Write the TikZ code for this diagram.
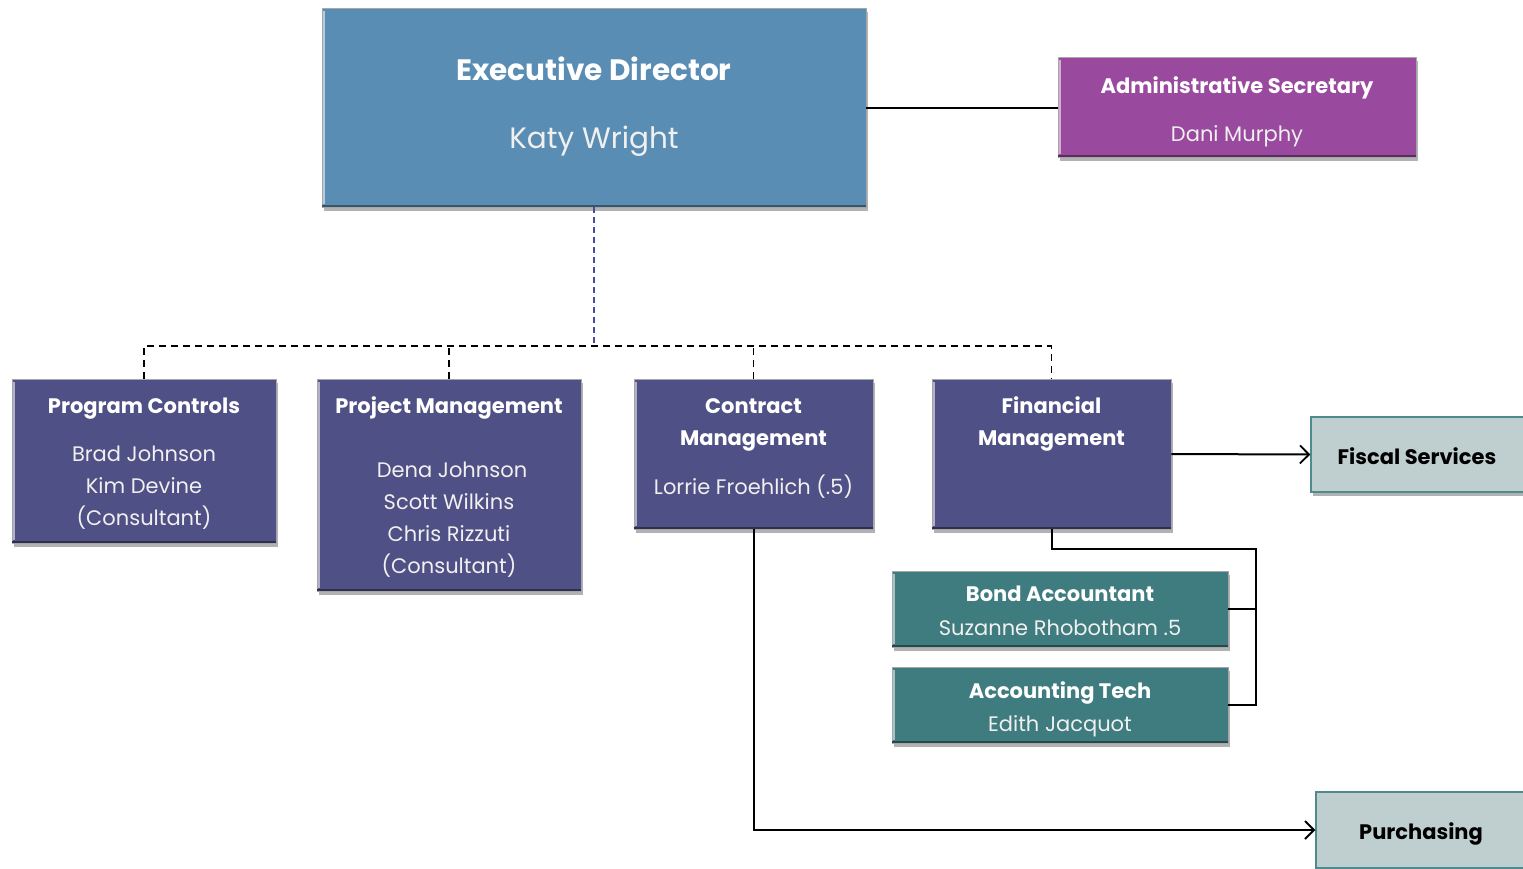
\documentclass[tikz,border=0pt]{standalone}
\usepackage{fontspec}
\setmainfont{Poppins}
\usetikzlibrary{shadows,arrows.meta}
\definecolor{execblue}{HTML}{5A8DB3}
\definecolor{adminpurple}{HTML}{9A4A9E}
\definecolor{deptblue}{HTML}{4F5086}
\definecolor{teal}{HTML}{3F7C7F}
\definecolor{lightbox}{HTML}{BFCFD0}
\definecolor{lightborder}{HTML}{4F8A8C}
\definecolor{busline}{HTML}{4A4A9A}
\tikzset{
  box/.style={draw=black!35, line width=0.8pt, inner sep=0pt,
    drop shadow={shadow xshift=2pt, shadow yshift=-4pt, opacity=0.3, fill=black}},
  lbox/.style={draw=lightborder, line width=1.5pt, fill=lightbox, inner sep=0pt,
    drop shadow={shadow xshift=2pt, shadow yshift=-4pt, opacity=0.3, fill=black}},
  ttl/.style={anchor=base, text=white, font=\bfseries\fontsize{#1}{#1}\selectfont, inner sep=0pt},
  nm/.style={anchor=base, text=white!94!black, font=\fontsize{#1}{#1}\selectfont, inner sep=0pt},
  conn/.style={line width=2pt, black},
  dsh/.style={line width=1.8pt, dash pattern=on 7pt off 5pt},
  arr/.style={conn, -{Straight Barb[length=9pt,width=18pt,line width=1.8pt]}},
}
\begin{document}
\begin{tikzpicture}[x=1pt,y=-1pt]
\clip (0,0) rectangle (1523,868);
\fill[white] (0,0) rectangle (1523,868);
% boxes
\node[box, fill=execblue, minimum width=544pt, minimum height=199pt] (ed) at (594,107.5) {};
\node[box, fill=adminpurple, minimum width=358pt, minimum height=100pt] (as) at (1237,107) {};
\node[box, fill=deptblue, minimum width=264pt, minimum height=164pt] (pc) at (144,461) {};
\node[box, fill=deptblue, minimum width=264pt, minimum height=212pt] (pm) at (449,485) {};
\node[box, fill=deptblue, minimum width=239pt, minimum height=150pt] (cm) at (753.5,454) {};
\node[box, fill=deptblue, minimum width=239pt, minimum height=150pt] (fm) at (1051.5,454) {};
\node[box, fill=teal, minimum width=336pt, minimum height=76pt] (ba) at (1060,609) {};
\node[box, fill=teal, minimum width=336pt, minimum height=76pt] (at) at (1060,705) {};
\node[lbox, minimum width=220pt, minimum height=75pt] (fs) at (1421,454.5) {};
\node[lbox, minimum width=220pt, minimum height=76pt] (pu) at (1426,830) {};
% bevel highlights
\foreach \b/\c in {ed/execblue,as/adminpurple,pc/deptblue,pm/deptblue,cm/deptblue,fm/deptblue,ba/teal,at/teal}{
  \draw[\c!45!white, line width=1.5pt] ([xshift=2.5pt,yshift=-3pt]\b.north west) -- ([xshift=2.5pt,yshift=3pt]\b.south west);
  \draw[\c!60!black, line width=1.5pt] ([yshift=1.5pt]\b.south west) -- ([yshift=1.5pt]\b.south east);
}
% texts
\node[ttl=29.5] (edt) at (594,80) {Executive Director};
\node[nm=29.5] (edn) at (594,148) {Katy Wright};
\node[ttl=21] (ast) at (1237,93) {Administrative Secretary};
\node[nm=21] (asn) at (1237,141) {Dani Murphy};
\node[ttl=21] (pct) at (144,413) {Program Controls};
\node[nm=21] (pcn) at (144,461) {Brad Johnson};
\node[nm=21] (pcn2) at (144,493) {Kim Devine};
\node[nm=21] (pcn3) at (144,525) {(Consultant)};
\node[ttl=21] (pmt) at (449,413) {Project Management};
\node[nm=21] (pmn1) at (452,477) {Dena Johnson};
\node[nm=21] (pmn2) at (449,509) {Scott Wilkins};
\node[nm=21] (pmn3) at (449,541) {Chris Rizzuti};
\node[nm=21] (pmn4) at (449,573) {(Consultant)};
\node[ttl=21] (cmt1) at (753.5,413) {Contract};
\node[ttl=21] (cmt2) at (753.5,445) {Management};
\node[nm=21] (cmn) at (753.5,494) {Lorrie Froehlich (.5)};
\node[ttl=21] (fmt1) at (1051.5,413) {Financial};
\node[ttl=21] (fmt2) at (1051.5,445) {Management};
\node[ttl=21] (bat) at (1060,601) {Bond Accountant};
\node[nm=21] (ban) at (1060,635) {Suzanne Rhobotham .5};
\node[ttl=21] (att) at (1060,698) {Accounting Tech};
\node[nm=21] (atn) at (1060,731) {Edith Jacquot};
\node[ttl=21, text=black] (fst) at (1417,464) {Fiscal Services};
\node[ttl=21, text=black] (put) at (1421,839) {Purchasing};
% connectors
\draw[conn] (ed.east) -- (ed.east -| as.west);
\coordinate (bus) at (594,346);
\draw[dsh, busline, line width=1.5pt, dash pattern=on 6pt off 4pt] (ed.south) -- (bus);
\draw[dsh] (pc.north) -- (pc.north |- bus) -- (fm.north |- bus) -- (fm.north);
\draw[dsh] (pm.north) -- (pm.north |- bus);
\draw[dsh] (cm.north) -- (cm.north |- bus);
\draw[arr] (fm.east) -- (fs.west);
\coordinate (rb) at (1256,549);
\draw[conn] (fm.south) |- (rb) -- (rb |- at.east) -- (at.east);
\draw[conn] (ba.east) -- (ba.east -| rb);
\draw[arr] (cm.south) |- (pu.west);
\end{tikzpicture}
\end{document}
